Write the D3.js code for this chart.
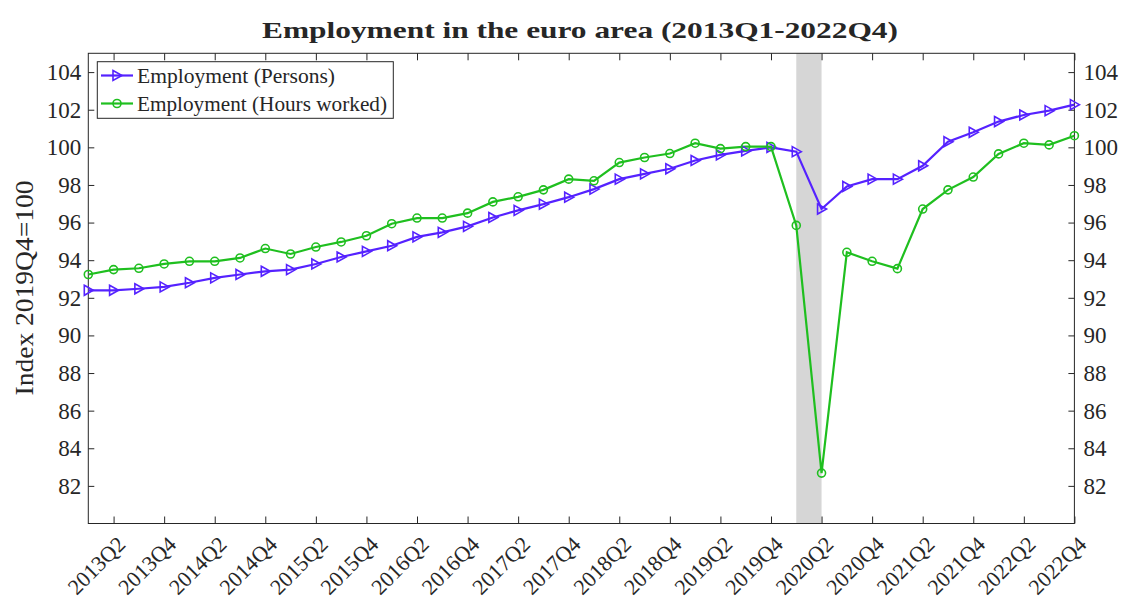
<!DOCTYPE html>
<html>
<head>
<meta charset="utf-8">
<script src="https://cdn.jsdelivr.net/npm/d3@7/dist/d3.min.js"></script>
<style>
  html, body { margin: 0; padding: 0; background: #fff; }
  svg { display: block; }
  svg text { font-family: "Liberation Serif", "Times New Roman", serif !important; fill: #262626; }
</style>
</head>
<body>
<svg id="chart" width="1123" height="602"></svg>
<script>
const quarters = ["2013Q1","2013Q2","2013Q3","2013Q4","2014Q1","2014Q2","2014Q3","2014Q4",
  "2015Q1","2015Q2","2015Q3","2015Q4","2016Q1","2016Q2","2016Q3","2016Q4",
  "2017Q1","2017Q2","2017Q3","2017Q4","2018Q1","2018Q2","2018Q3","2018Q4",
  "2019Q1","2019Q2","2019Q3","2019Q4","2020Q1","2020Q2","2020Q3","2020Q4",
  "2021Q1","2021Q2","2021Q3","2021Q4","2022Q1","2022Q2","2022Q3","2022Q4"];
const persons = [92.4, 92.4, 92.48, 92.58, 92.8, 93.06, 93.24, 93.41, 93.5, 93.8, 94.17, 94.47, 94.77, 95.24,
  95.48, 95.8, 96.27, 96.65, 96.98, 97.35, 97.78, 98.31, 98.59, 98.86, 99.3, 99.6, 99.81, 100.0,
  99.77, 96.72, 97.92, 98.31, 98.31, 99.02, 100.3, 100.8, 101.37, 101.72, 101.95, 102.27];
const hoursWorked = [93.24, 93.5, 93.57, 93.8, 93.94, 93.94, 94.12, 94.62, 94.33, 94.7, 94.97, 95.3, 95.94, 96.24,
  96.24, 96.5, 97.1, 97.37, 97.74, 98.31, 98.22, 99.19, 99.46, 99.67, 100.22, 99.93, 100.04, 100.04,
  95.85, 82.68, 94.42, 93.94, 93.55, 96.72, 97.74, 98.42, 99.65, 100.22, 100.13, 100.62];
const xTickLabels = ["2013Q2","2013Q4","2014Q2","2014Q4","2015Q2","2015Q4","2016Q2","2016Q4",
  "2017Q2","2017Q4","2018Q2","2018Q4","2019Q2","2019Q4","2020Q2","2020Q4",
  "2021Q2","2021Q4","2022Q2","2022Q4"];
const yTicks = [82, 84, 86, 88, 90, 92, 94, 96, 98, 100, 102, 104];
const shadedPeriod = ["2020Q1", "2020Q2"];
const seriesNames = ["Employment (Persons)", "Employment (Hours worked)"];
const titleText = "Employment in the euro area (2013Q1-2022Q4)";
const yLabelText = "Index 2019Q4=100";

const svg = d3.select("#chart");
const L = 88.3, R = 1074.4, T = 53.3, B = 523.5;
const axisColor = "#262626";
const blue = "#5522ff", green = "#1fbf1f";
const serif = '"Liberation Serif", "Times New Roman", serif';

const x = d3.scalePoint().domain(quarters).range([L, R]).padding(0);
const y = d3.scaleLinear().domain([80, 105]).range([B, T]);

// shaded band
svg.append("rect")
  .attr("x", x(shadedPeriod[0])).attr("y", T)
  .attr("width", x(shadedPeriod[1]) - x(shadedPeriod[0]))
  .attr("height", B - T)
  .attr("fill", "#d6d6d6");

// axes
const tickLen = 7;
const xAxisB = d3.axisBottom(x).tickValues(xTickLabels).tickSizeInner(-tickLen).tickSizeOuter(0).tickFormat("");
const xAxisT = d3.axisTop(x).tickValues(xTickLabels).tickSizeInner(-tickLen).tickSizeOuter(0).tickFormat("");
const yAxisL = d3.axisLeft(y).tickValues(yTicks).tickSizeInner(-6).tickSizeOuter(0).tickPadding(7);
const yAxisR = d3.axisRight(y).tickValues(yTicks).tickSizeInner(-6).tickSizeOuter(0).tickPadding(9);

function styleAxis(g) {
  g.attr("font-family", serif).attr("font-size", 23);
  g.select(".domain").remove();
  g.selectAll("line").attr("stroke", axisColor).attr("stroke-width", 1);
  g.selectAll("text").style("font-size", "23px").style("font-family", serif).attr("fill", axisColor);
}
svg.append("g").attr("transform", `translate(0,${B})`).call(xAxisB).call(styleAxis);
svg.append("g").attr("transform", `translate(0,${T})`).call(xAxisT).call(styleAxis);
svg.append("g").attr("transform", `translate(${L},0)`).call(yAxisL).call(styleAxis);
svg.append("g").attr("transform", `translate(${R},0)`).call(yAxisR).call(styleAxis);

// rotated x tick labels
svg.append("g").selectAll("text").data(xTickLabels).join("text")
  .attr("text-anchor", "end")
  .attr("dominant-baseline", "central")
  .attr("transform", d => `translate(${x(d) + 8},${B + 17}) rotate(-45)`)
  .style("font-size", "22px").style("font-family", serif)
  .text(d => d);

// box
svg.append("rect").attr("x", L).attr("y", T).attr("width", R - L).attr("height", B - T)
  .attr("fill", "none").attr("stroke", axisColor).attr("stroke-width", 1);

// lines
const line = d3.line().x((d, i) => x(quarters[i])).y(d => y(d));
svg.append("path").datum(persons).attr("d", line).attr("fill", "none").attr("stroke", blue).attr("stroke-width", 2.2);
svg.append("path").datum(hoursWorked).attr("d", line).attr("fill", "none").attr("stroke", green).attr("stroke-width", 2.2);

const triPath = "M-4,-5 L5,0 L-4,5 Z";
svg.append("g").selectAll("path").data(persons).join("path")
  .attr("d", triPath)
  .attr("transform", (d, i) => `translate(${x(quarters[i])},${y(d)})`)
  .attr("fill", "none").attr("stroke", blue).attr("stroke-width", 1.6);
svg.append("g").selectAll("circle").data(hoursWorked).join("circle")
  .attr("cx", (d, i) => x(quarters[i])).attr("cy", d => y(d)).attr("r", 4)
  .attr("fill", "none").attr("stroke", green).attr("stroke-width", 1.6);

// legend
const lg = svg.append("g");
lg.append("rect").attr("x", 97.3).attr("y", 61.7).attr("width", 296).attr("height", 56.6)
  .attr("fill", "#fff").attr("stroke", axisColor).attr("stroke-width", 1);
const legendItems = [
  {name: seriesNames[0], color: blue, marker: "tri", yy: 75.5, len: 198},
  {name: seriesNames[1], color: green, marker: "circ", yy: 103.5, len: 250}
];
legendItems.forEach(it => {
  lg.append("line").attr("x1", 101).attr("x2", 133).attr("y1", it.yy).attr("y2", it.yy)
    .attr("stroke", it.color).attr("stroke-width", 2.2);
  if (it.marker === "tri") {
    lg.append("path").attr("d", triPath).attr("transform", `translate(117,${it.yy})`)
      .attr("fill", "none").attr("stroke", it.color).attr("stroke-width", 1.6);
  } else {
    lg.append("circle").attr("cx", 117).attr("cy", it.yy).attr("r", 4)
      .attr("fill", "none").attr("stroke", it.color).attr("stroke-width", 1.6);
  }
  lg.append("text").attr("x", 137).attr("y", it.yy).attr("dominant-baseline", "central")
    .style("font-size", "20px").style("font-family", serif)
    .attr("textLength", it.len).attr("lengthAdjust", "spacingAndGlyphs")
    .text(it.name);
});

// title
svg.append("text").attr("x", 580).attr("y", 38).attr("text-anchor", "middle")
  .style("font-size", "24px").style("font-weight", "bold").style("font-family", serif)
  .attr("textLength", 636).attr("lengthAdjust", "spacingAndGlyphs")
  .text(titleText);

// y label
svg.append("text").attr("transform", "translate(33,288) rotate(-90)").attr("text-anchor", "middle")
  .style("font-size", "25px").style("font-family", serif)
  .attr("textLength", 215).attr("lengthAdjust", "spacingAndGlyphs")
  .text(yLabelText);
</script>
</body>
</html>
